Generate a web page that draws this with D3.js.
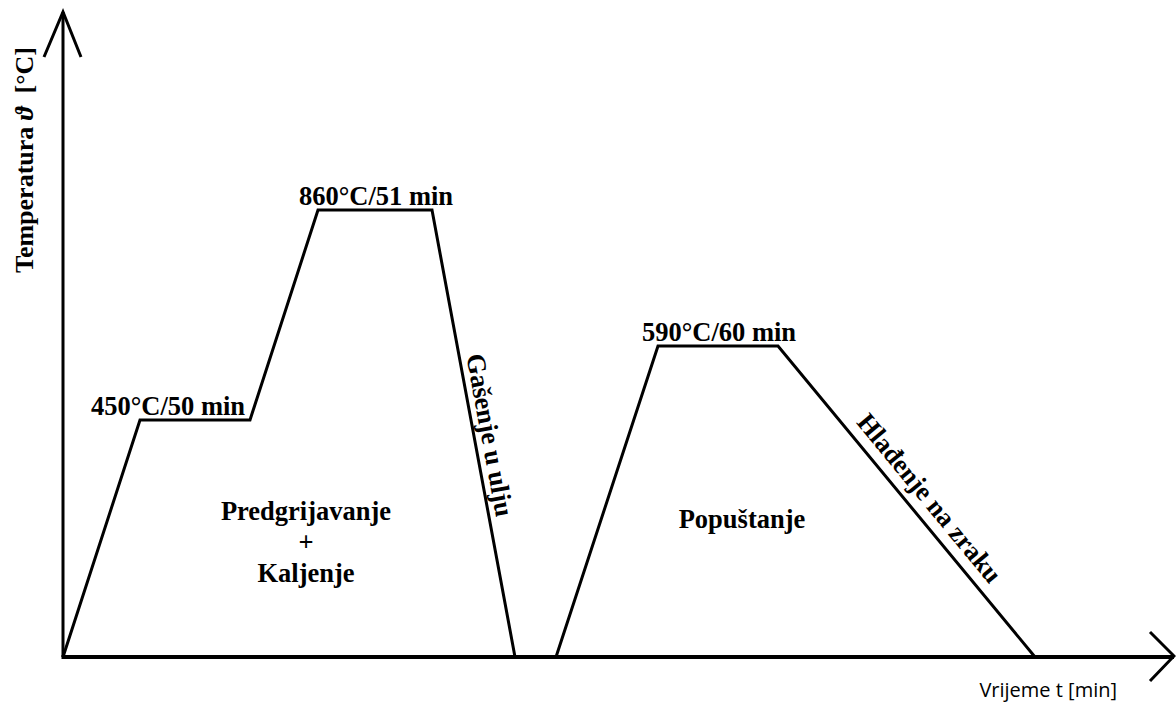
<!DOCTYPE html>
<html>
<head>
<meta charset="utf-8">
<script src="https://cdn.jsdelivr.net/npm/d3@7"></script>
<style>
  body { margin: 0; background: #fff; }
  svg { display: block; }
</style>
</head>
<body>
<div id="chart"></div>
<script>
// profil: vrijeme (rel. jedinice) i temperatura (rel. jedinice)
const kaljenjeT = [0, 77, 187, 255, 369, 452]
const kaljenjeTemp = [0, 237, 237, 447, 447, 0]
const popustanjeT = [493, 595, 715, 972]
const popustanjeTemp = [0, 311, 311, 0]

const nazivi = ["450°C/50 min", "860°C/51 min", "590°C/60 min"]
const naziviIdx = [[0, 1, 2], [0, 3, 4], [1, 1, 2]] // [serija, od, do]

const W = 1176, H = 702
const FS = "26.5px"

let svg = d3.select("#chart").append("svg")
    .attr("width", W)
    .attr("height", H)

let x = d3.scaleLinear().domain([0, 1113]).range([63, 1176])
let y = d3.scaleLinear().domain([0, 645]).range([657, 12])

let line = d3.line()
    .x(d => x(d[0]))
    .y(d => y(d[1]))

let serije = [
    d3.zip(kaljenjeT, kaljenjeTemp),
    d3.zip(popustanjeT, popustanjeTemp)
]

// osi
svg.append("line")
    .attr("x1", x(0)).attr("y1", y(0))
    .attr("x2", x(0)).attr("y2", y(645))
    .attr("stroke", "#000").attr("stroke-width", 3)
svg.append("path")
    .attr("d", line([[-19, 600], [0, 645], [18, 600]]))
    .attr("fill", "none").attr("stroke", "#000").attr("stroke-width", 3)

svg.append("line")
    .attr("x1", x(0) - 1.5).attr("y1", y(0))
    .attr("x2", x(1111)).attr("y2", y(0))
    .attr("stroke", "#000").attr("stroke-width", 4)
svg.append("path")
    .attr("d", line([[1087, 25], [1111, 1], [1087, -24]]))
    .attr("fill", "none").attr("stroke", "#000").attr("stroke-width", 3)

// krivulje
serije.forEach(s => {
    svg.append("path")
        .attr("d", line(s))
        .attr("fill", "none")
        .attr("stroke", "#000")
        .attr("stroke-width", 3)
        .attr("stroke-linejoin", "miter")
})

const serif = "'Liberation Serif', 'Times New Roman', serif"

// natpisi na zadrzavanjima
naziviIdx.forEach((n, i) => {
    let s = serije[n[0]]
    let a = s[n[1]], b = s[n[2]]
    svg.append("text")
        .attr("x", (x(a[0]) + x(b[0])) / 2 + (i == 0 ? -27 : 1))
        .attr("y", y(a[1]) - 5)
        .attr("text-anchor", "middle")
        .style("font-family", serif)
        .style("font-weight", "bold")
        .style("font-size", FS)
        .text(nazivi[i])
})

// natpisi uz kose linije
function kosiNatpis(a, b, t, pomak, tekst) {
    let x1 = x(a[0]), y1 = y(a[1]), x2 = x(b[0]), y2 = y(b[1])
    let ang = Math.atan2(y2 - y1, x2 - x1)
    let px = x1 + (x2 - x1) * t, py = y1 + (y2 - y1) * t
    // pomak okomito na liniju (prema gore teksta)
    px += Math.sin(ang) * pomak
    py += -Math.cos(ang) * pomak
    svg.append("text")
        .attr("transform", `translate(${px},${py}) rotate(${ang * 180 / Math.PI})`)
        .attr("text-anchor", "middle")
        .style("font-family", serif)
        .style("font-weight", "bold")
        .style("font-size", FS)
        .text(tekst)
}
kosiNatpis(serije[0][4], serije[0][5], 0.51, 7, "Gašenje u ulju")
kosiNatpis(serije[1][2], serije[1][3], 0.53, 11, "Hlađenje na zraku")

// nazivi postupaka
let p1 = svg.append("text")
    .attr("text-anchor", "middle")
    .style("font-family", serif)
    .style("font-weight", "bold")
    .style("font-size", FS)
;["Predgrijavanje", "+", "Kaljenje"].forEach((t, i) => {
    p1.append("tspan").attr("x", 306).attr("y", 520 + i * 31).text(t)
})
svg.append("text")
    .attr("x", 742).attr("y", 528)
    .attr("text-anchor", "middle")
    .style("font-family", serif)
    .style("font-weight", "bold")
    .style("font-size", FS)
    .text("Popuštanje")

// nazivi osi
let yl = svg.append("text")
    .attr("transform", "translate(33,160) rotate(-90)")
    .attr("text-anchor", "middle")
    .style("font-family", serif)
    .style("font-weight", "bold")
    .style("font-size", "26px")
    .style("white-space", "pre")
yl.append("tspan").text("Temperatura ")
yl.append("tspan").style("font-style", "italic").text("ϑ")
yl.append("tspan").text("  [°C]")

svg.append("text")
    .attr("x", 1117).attr("y", 697)
    .attr("text-anchor", "end")
    .style("font-family", "'Open Sans', sans-serif")
    .style("font-size", "20px")
    .text("Vrijeme t [min]")
</script>
</body>
</html>
